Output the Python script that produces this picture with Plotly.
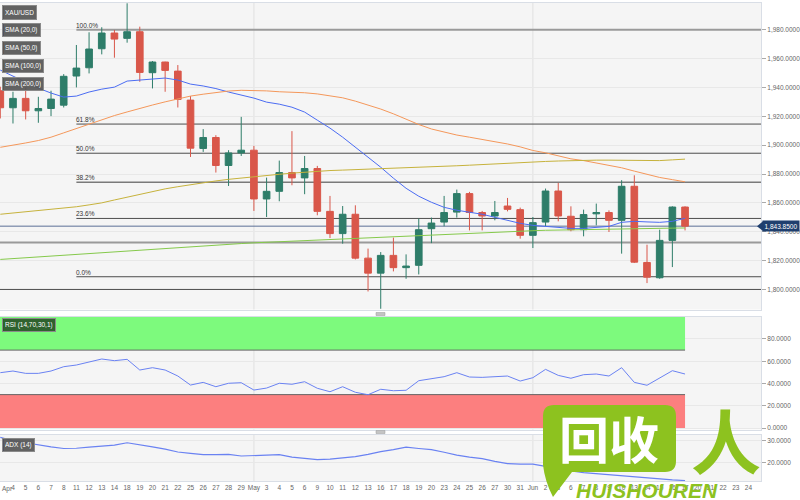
import plotly.graph_objects as go

# ---------------- data ----------------
ticktext = ["Apr", "4", "5", "6", "7", "8", "11", "12", "13", "14", "18", "19", "20", "21", "22",
            "25", "26", "27", "28", "29", "May", "3", "4", "5", "6", "9", "10", "11", "12", "13",
            "16", "17", "18", "19", "20", "23", "24", "25", "26", "27", "30", "31", "Jun", "2", "3",
            "6", "7", "8", "9", "10", "13", "14", "15", "16", "17", "20", "21", "22", "23", "24"]

open_ = [1937.7, 1925.9, 1932.4, 1923.8, 1925.4, 1927.7, 1947.9, 1953.6, 1966.8, 1977.7,
         1974.0, 1978.6, 1950.2, 1957.6, 1951.3, 1931.2, 1897.7, 1905.3, 1885.9, 1894.6,
         1896.5, 1862.7, 1868.0, 1881.0, 1877.3, 1883.8, 1854.1, 1838.7, 1852.1, 1821.7,
         1811.3, 1823.6, 1815.1, 1816.7, 1842.1, 1846.7, 1853.6, 1866.4, 1853.3, 1850.9,
         1857.8, 1855.3, 1837.5, 1846.7, 1868.2, 1850.7, 1841.4, 1852.4, 1853.3, 1847.9,
         1871.5, 1818.7, 1808.1, 1834.0, 1857.1]
high = [1940.5, 1937.0, 1940.0, 1933.5, 1937.7, 1949.2, 1969.4, 1978.2, 1981.7, 1979.8,
        1998.3, 1982.1, 1958.3, 1957.8, 1955.5, 1934.0, 1911.1, 1906.9, 1896.5, 1919.6,
        1899.5, 1877.5, 1889.3, 1909.7, 1892.5, 1885.6, 1864.8, 1857.8, 1858.3, 1828.3,
        1825.9, 1835.9, 1824.3, 1849.1, 1849.8, 1864.8, 1869.2, 1867.6, 1854.4, 1861.3,
        1863.4, 1856.7, 1850.2, 1869.9, 1873.8, 1857.6, 1855.3, 1859.5, 1854.8, 1875.7,
        1879.1, 1831.0, 1841.4, 1857.6, 1857.6]
low = [1918.5, 1915.0, 1917.8, 1915.5, 1920.1, 1926.1, 1940.0, 1949.7, 1962.9, 1960.6,
       1971.0, 1943.9, 1939.3, 1937.0, 1926.1, 1891.8, 1895.3, 1881.0, 1871.7, 1892.5,
       1854.4, 1850.2, 1861.1, 1872.2, 1866.0, 1851.4, 1835.6, 1831.7, 1820.8, 1798.6,
       1786.6, 1812.5, 1807.4, 1810.4, 1832.1, 1843.8, 1849.8, 1840.9, 1840.9, 1847.9,
       1854.1, 1835.2, 1828.7, 1843.9, 1847.2, 1840.3, 1836.8, 1844.4, 1839.8, 1824.8,
       1818.3, 1804.4, 1807.4, 1815.5, 1840.9]
close = [1925.9, 1932.4, 1923.8, 1925.4, 1931.9, 1947.7, 1953.4, 1966.6, 1977.7, 1973.5,
         1978.6, 1950.4, 1957.6, 1951.8, 1931.7, 1897.9, 1905.3, 1885.9, 1894.6, 1896.5,
         1862.7, 1868.0, 1881.0, 1877.3, 1883.8, 1854.1, 1838.7, 1852.1, 1821.7, 1811.3,
         1823.6, 1815.1, 1816.2, 1841.4, 1846.0, 1853.3, 1866.4, 1853.3, 1850.9, 1853.3,
         1855.5, 1837.5, 1846.3, 1868.2, 1850.9, 1841.4, 1851.9, 1853.3, 1847.9, 1871.5,
         1818.9, 1808.5, 1834.0, 1857.1, 1843.85]

sma20 = [1952.0, 1947.9, 1943.7, 1939.5, 1936.1, 1933.3, 1934.0, 1936.8, 1938.8, 1940.2,
         1944.4, 1945.1, 1945.8, 1946.5, 1945.1, 1942.3, 1941.0, 1939.2, 1936.8, 1934.7,
         1932.6, 1929.8, 1928.4, 1926.3, 1922.9, 1917.3, 1911.8, 1905.5, 1898.6, 1891.6,
         1884.7, 1877.1, 1870.1, 1864.6, 1860.4, 1856.9, 1854.9, 1853.5, 1852.1, 1850.0,
         1847.9, 1845.8, 1844.4, 1843.7, 1843.0, 1842.3, 1842.3, 1843.0, 1843.7, 1846.5,
         1847.2, 1846.8, 1846.5, 1847.2, 1849.3]
sma50 = [1898.5, 1899.8, 1901.5, 1903.2, 1905.5, 1908.5, 1911.5, 1914.5, 1917.6, 1920.5,
         1923.0, 1925.6, 1927.8, 1930.0, 1932.2, 1934.0, 1935.3, 1936.6, 1937.5, 1938.0,
         1938.0, 1937.6, 1937.0, 1936.7, 1936.3, 1935.5, 1934.4, 1932.8, 1930.5, 1927.8,
         1925.0, 1921.7, 1918.0, 1914.3, 1911.2, 1909.0, 1907.0, 1905.5, 1904.0, 1902.2,
         1900.8, 1898.8, 1896.3, 1894.7, 1892.6, 1890.5, 1889.3, 1887.8, 1886.0, 1884.3,
         1882.0, 1879.6, 1877.6, 1876.1, 1874.6]
sma100 = [1852.1, 1853.0, 1854.0, 1854.8, 1855.5, 1856.2, 1857.3, 1858.6, 1860.0, 1862.0,
          1864.0, 1866.0, 1868.0, 1869.7, 1871.2, 1872.7, 1874.0, 1875.2, 1876.3, 1877.3,
          1878.1, 1879.0, 1879.8, 1880.6, 1881.3, 1881.9, 1882.4, 1882.7, 1883.0, 1883.2,
          1883.4, 1883.7, 1884.0, 1884.4, 1884.8, 1885.2, 1885.7, 1886.1, 1886.6, 1887.0,
          1887.5, 1888.0, 1888.3, 1888.7, 1889.0, 1889.3, 1889.5, 1889.6, 1889.6, 1889.6,
          1889.5, 1889.2, 1889.3, 1889.8, 1890.3]
sma200 = [1820.8, 1821.4, 1822.0, 1822.6, 1823.1, 1823.7, 1824.3, 1824.9, 1825.5, 1826.1,
          1826.8, 1827.3, 1827.9, 1828.5, 1829.0, 1829.6, 1830.2, 1830.8, 1831.3, 1831.8,
          1832.3, 1832.7, 1833.1, 1833.5, 1833.9, 1834.3, 1834.7, 1835.0, 1835.4, 1835.8,
          1836.2, 1836.6, 1837.0, 1837.4, 1837.8, 1838.2, 1838.6, 1839.0, 1839.4, 1839.8,
          1840.1, 1840.4, 1840.7, 1841.0, 1841.2, 1841.4, 1841.6, 1841.8, 1842.0, 1842.1,
          1842.2, 1842.3, 1842.4, 1842.5, 1842.6]

rsi = [49.7, 51.2, 49.1, 49.1, 51.2, 55.1, 56.6, 59.6, 62.0, 60.5,
       61.7, 52.1, 54.2, 52.1, 46.7, 38.6, 41.0, 37.1, 40.2, 40.7,
       34.1, 35.9, 40.2, 39.3, 41.6, 35.7, 32.6, 37.1, 32.1, 29.9,
       34.8, 33.5, 33.9, 42.5, 44.3, 46.1, 49.7, 45.8, 45.5, 46.4,
       46.7, 42.2, 45.2, 52.7, 47.3, 44.7, 47.9, 48.5, 46.7, 54.2,
       41.0, 38.4, 45.2, 51.5, 48.5]
adx = [31.5, 30.0, 29.1, 28.0, 27.2, 26.5, 26.6, 27.1, 27.5, 28.0,
       29.1, 28.0, 27.2, 26.2, 24.9, 24.3, 23.7, 23.7, 23.8, 23.1,
       23.4, 23.7, 23.7, 22.6, 21.9, 21.5, 21.7, 22.1, 22.8, 23.8,
       25.1, 26.0, 27.1, 26.5, 26.0, 24.8, 23.5, 22.6, 21.9, 20.7,
       19.7, 19.4, 19.4, 18.4, 17.3, 16.4, 15.6, 15.1, 14.6, 14.1,
       13.6, 13.1, 12.6, 12.3, 12.0]

fib_levels = [1980.0, 1914.6, 1894.4, 1874.2, 1849.2, 1808.8]
fib_labels = ["100.0%", "61.8%", "50.0%", "38.2%", "23.6%", "0.0%"]
fib_start = 6
sr_levels = [1832.6, 1800.0]
last_price = 1843.85
rsi_upper, rsi_lower = 70, 30
main_ticks = [1800, 1820, 1840, 1860, 1880, 1900, 1920, 1940, 1960, 1980]
rsi_ticks = [0, 20, 40, 60, 80]
adx_ticks = [20, 30]
month_idx = [20, 42]

# ---------------- geometry helpers ----------------
W, H = 800, 500
ML, MR, MT, MB = 0, 39, 3, 19
PW, PH = W - ML - MR, H - MT - MB


def px(x):
    return (x - ML) / PW


def py(y):
    return (H - MB - y) / PH


FONT = "Liberation Sans Narrow, Arial Narrow, Liberation Sans, Arial"
FS = 6.5
GREEN = "#2e7d69"
RED = "#d9574a"
BORDER = "#d9dee6"
GRID = "#e8e8e8"
LABEL = "#666666"
XR = [-0.024, 59.99]

n = len(close)
idx = list(range(n))

fig = go.Figure()
fig.add_trace(go.Candlestick(
    x=idx, open=open_, high=high, low=low, close=close,
    increasing=dict(line=dict(color=GREEN, width=1), fillcolor=GREEN),
    decreasing=dict(line=dict(color=RED, width=1), fillcolor=RED),
    whiskerwidth=0, showlegend=False, hoverinfo="skip", xaxis="x", yaxis="y"))

for vals, col in [(sma20, "#4b6cf2"), (sma50, "#f4975a"), (sma100, "#c6b23c"), (sma200, "#85c94b")]:
    fig.add_trace(go.Scatter(x=idx, y=vals, mode="lines", line=dict(color=col, width=1),
                             showlegend=False, hoverinfo="skip", xaxis="x", yaxis="y"))

fig.add_trace(go.Scatter(x=idx, y=rsi, mode="lines", line=dict(color="#6a82f2", width=1),
                         showlegend=False, hoverinfo="skip", xaxis="x2", yaxis="y2"))
fig.add_trace(go.Scatter(x=idx, y=adx, mode="lines", line=dict(color="#6a82f2", width=1.2),
                         showlegend=False, hoverinfo="skip", xaxis="x3", yaxis="y3"))

xcommon = dict(range=XR, showgrid=False, zeroline=False, showline=True, linecolor=BORDER,
               mirror=True, ticks="", fixedrange=True, automargin=False)
ycommon = dict(side="right", ticks="outside", ticklen=4, tickcolor="#aaaaaa", showgrid=True,
               gridcolor=GRID, zeroline=False, showline=True, linecolor=BORDER, mirror=True,
               tickfont=dict(size=FS, color=LABEL, family=FONT), fixedrange=True,
               automargin=False)

main_dom = [py(309.5), 1.0]
rsi_dom = [py(429.5), py(316.5)]
adx_dom = [0.0, py(435)]

fig.update_layout(
    width=W, height=H, margin=dict(l=ML, r=MR, t=MT, b=MB),
    paper_bgcolor="white", plot_bgcolor="#f5f5f5", showlegend=False,
    boxgap=0.25,
    font=dict(family=FONT, size=FS, color=LABEL),
    xaxis=dict(**xcommon, domain=[0, 1], anchor="y", showticklabels=False,
               rangeslider=dict(visible=False)),
    xaxis2=dict(**xcommon, domain=[0, 1], anchor="y2", matches="x", showticklabels=False),
    xaxis3=dict(**xcommon, domain=[0, 1], anchor="y3", matches="x", showticklabels=True,
                tickmode="array", tickvals=list(range(len(ticktext))), ticktext=ticktext,
                tickfont=dict(size=FS, color=LABEL, family=FONT)),
    yaxis=dict(**ycommon, domain=main_dom, anchor="x", range=[1786.1, 1998.5],
               tickvals=main_ticks, tickformat=",.4f"),
    yaxis2=dict(**ycommon, domain=rsi_dom, anchor="x2", range=[-1.35, 100.2],
                tickvals=rsi_ticks, tickformat=".4f"),
    yaxis3=dict(**ycommon, domain=adx_dom, anchor="x3", range=[11.8, 32.6],
                tickvals=adx_ticks, tickformat=".4f"),
)

shapes = []
annotations = []

# month separators
for ax, yax in [("x", "y"), ("x2", "y2"), ("x3", "y3")]:
    for m in month_idx:
        shapes.append(dict(type="line", xref=ax, yref=yax + " domain", x0=m, x1=m, y0=0, y1=1,
                           line=dict(color="#e0e0e0", width=1), layer="below"))

# first month label sits against the left edge (plotly hides the clipped tick label)
annotations.append(dict(xref="paper", yref="paper", x=0, y=0, xanchor="left", yanchor="top",
                        yshift=-2, text=ticktext[0], showarrow=False,
                        font=dict(size=FS, color=LABEL, family=FONT)))

# RSI zones
shapes.append(dict(type="rect", xref="x2", yref="y2", x0=XR[0], x1=n - 1, y0=rsi_upper, y1=100,
                   fillcolor="#7dfa7d", line=dict(width=0), layer="between"))
shapes.append(dict(type="rect", xref="x2", yref="y2", x0=XR[0], x1=n - 1, y0=0, y1=rsi_lower,
                   fillcolor="#fc7f7f", line=dict(width=0), layer="between"))
for lv in (rsi_upper, rsi_lower):
    shapes.append(dict(type="line", xref="x2", yref="y2", x0=XR[0], x1=n - 1, y0=lv, y1=lv,
                       line=dict(color="#666666", width=1), layer="between"))

# fibonacci lines + labels
for lv, lab in zip(fib_levels, fib_labels):
    if lab == "100.0%":
        col, w = "#9a9a9a", 2
    elif lab == "38.2%":
        col, w = "#7a7a7a", 1.5
    else:
        col, w = "#4d4d4d", 1
    shapes.append(dict(type="line", xref="x", yref="y", x0=fib_start, x1=XR[1], y0=lv, y1=lv,
                       line=dict(color=col, width=w), layer="between"))
    annotations.append(dict(xref="x", yref="y", x=fib_start, y=lv, text=lab, showarrow=False,
                            xanchor="left", yanchor="bottom", yshift=-1, xshift=-2,
                            font=dict(size=FS, color="#333333", family=FONT)))

# support / resistance lines
for lv in sr_levels:
    col, w = ("#9a9a9a", 2) if lv != 1800.0 else ("#4d4d4d", 1)
    shapes.append(dict(type="line", xref="x", yref="y", x0=XR[0], x1=XR[1], y0=lv, y1=lv,
                       line=dict(color=col, width=w), layer="between"))

# last price line and tag
shapes.append(dict(type="line", xref="x", yref="y", x0=XR[0], x1=XR[1], y0=last_price, y1=last_price,
                   line=dict(color="#5b6f96", width=1), layer="between"))
shapes.append(dict(type="path", xref="paper", yref="y",
                   path=f"M {px(757)},{last_price} L {px(763)},{last_price + 3.4} "
                        f"L {px(763)},{last_price - 3.4} Z",
                   fillcolor="#1f3f6e", line=dict(width=0), layer="above"))
annotations.append(dict(xref="paper", yref="y", x=px(762), y=last_price, xanchor="left",
                        yanchor="middle", text=f"{last_price:,.4f}", showarrow=False,
                        bgcolor="#1f3f6e", borderpad=1.5,
                        font=dict(size=FS, color="white", family=FONT)))


# legend / indicator tags
def tag(text, x0, y0, h, bg, edge):
    annotations.append(dict(xref="paper", yref="paper", x=px(x0), y=py(y0), xanchor="left",
                            yanchor="top", text=text, showarrow=False, align="left",
                            height=h - 6, bgcolor=bg, bordercolor="#8a8a8a",
                            borderwidth=1, borderpad=2,
                            font=dict(size=FS, color="white", family=FONT)))
    shapes.append(dict(type="rect", xref="paper", yref="paper", x0=px(x0), x1=px(x0 + 2),
                       y0=py(y0 + h), y1=py(y0), fillcolor=edge, line=dict(width=0),
                       layer="above"))


tag("XAU/USD", 2, 5, 15, "rgba(85,85,85,0.92)", "#8a8a8a")
tag("SMA (20,0)", 2, 23, 14, "rgba(85,85,85,0.92)", "#2233dd")
tag("SMA (50,0)", 2, 41, 14, "rgba(85,85,85,0.92)", "#e06a1b")
tag("SMA (100,0)", 2, 59, 14, "rgba(85,85,85,0.92)", "#9a8a1a")
tag("SMA (200,0)", 2, 77, 14, "rgba(85,85,85,0.92)", "#5aa02c")
tag("RSI (14,70,30,1)", 2, 318, 14, "rgba(40,85,40,0.92)", "#22dd22")
tag("ADX (14)", 2, 438, 14, "rgba(85,85,85,0.92)", "#2233dd")

# panel resize handles
for hy in (312.5, 430.5):
    shapes.append(dict(type="rect", xref="paper", yref="paper", x0=px(376), x1=px(385),
                       y0=py(hy + 3), y1=py(hy), fillcolor="#c4c4c4",
                       line=dict(color="#9a9a9a", width=0.5), layer="above"))

# watermark
WM = "#8dc21f"
pts = ("M 554,405 L 665,405 Q 676,405 676,416 L 676,461 Q 676,472 665,472 L 572,472 "
       "L 553,497 Q 545,482 543,465 L 543,416 Q 543,405 554,405 Z")
out = []
for t in pts.split():
    if t.isalpha():
        out.append(t)
    else:
        xs, ys = t.split(",")
        out.append(f"{px(float(xs)):.5f},{py(float(ys)):.5f}")
shapes.append(dict(type="path", xref="paper", yref="paper", path=" ".join(out),
                   fillcolor=WM, line=dict(width=0), layer="above"))
annotations.append(dict(xref="paper", yref="paper", x=px(609), y=py(437), xanchor="center",
                        yanchor="middle", text="回收", showarrow=False,
                        font=dict(size=50, color="white", family="Noto Sans CJK SC", weight="bold")))
annotations.append(dict(xref="paper", yref="paper", x=px(726), y=py(438), xanchor="center",
                        yanchor="middle", text="人", showarrow=False,
                        font=dict(size=70, color=WM, family="Noto Sans CJK SC", weight="bold")))
annotations.append(dict(xref="paper", yref="paper", x=px(647), y=py(490), xanchor="center",
                        yanchor="middle", text="HUISHOUREN", showarrow=False,
                        font=dict(size=21, color=WM, family="Liberation Sans", weight="bold",
                                  style="italic")))

fig.update_layout(shapes=shapes, annotations=annotations)
fig.write_html("out.html", config={"displayModeBar": False},
               post_script="document.body.style.margin='0';document.body.style.padding='0';")
